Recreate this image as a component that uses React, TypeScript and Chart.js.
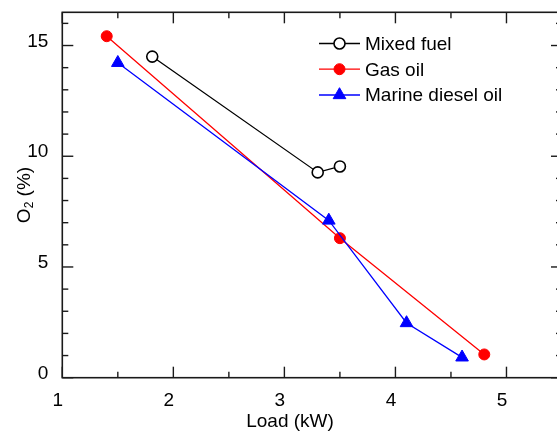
import React, { useEffect, useRef } from "react";
import { Chart, registerables } from "chart.js";

Chart.register(...registerables);

const FONT = "'Liberation Sans', Arial, Helvetica, sans-serif";

// ---- data ----
const seriesNames = ["Mixed fuel", "Gas oil", "Marine diesel oil"];
const mixedLoad = [1.81, 3.3, 3.5];
const mixedO2 = [14.5, 9.27, 9.54];
const gasLoad = [1.4, 3.5, 4.8];
const gasO2 = [15.42, 6.3, 1.05];
const marineLoad = [1.5, 3.4, 4.1, 4.6];
const marineO2 = [14.22, 7.1, 2.47, 0.92];
const xTickValues = [1, 2, 3, 4, 5];
const yTickValues = [0, 5, 10, 15];
const xTitle = "Load (kW)";
const yTitleMain = "O";
const yTitleSub = "2";
const yTitleRest = " (%)";

const toPoints = (xs: number[], ys: number[]) => xs.map((x, i) => ({ x, y: ys[i] }));

const framePlugin = {
  id: "frameAndLegend",
  afterDraw(chart: any) {
    const { ctx, chartArea } = chart;
    const { left, right, top, bottom } = chartArea;
    const xs = chart.scales.x;
    const ys = chart.scales.y;
    ctx.save();
    ctx.strokeStyle = "#1a1a1a";
    ctx.lineWidth = 1.6;
    ctx.strokeRect(left, top, right - left, bottom - top);
    const seg = (x1: number, y1: number, x2: number, y2: number) => {
      ctx.beginPath();
      ctx.moveTo(x1, y1);
      ctx.lineTo(x2, y2);
      ctx.stroke();
    };
    ctx.lineWidth = 1.4;
    for (let v = xs.min; v <= xs.max + 1e-9; v += 0.5) {
      const px = xs.getPixelForValue(v);
      const major = Math.abs(v - Math.round(v)) < 1e-6;
      const len = major ? 11 : 6;
      seg(px, bottom, px, bottom - len);
      seg(px, top, px, top + len);
    }
    for (let v = ys.min; v <= ys.max + 1e-9; v += 1) {
      const py = ys.getPixelForValue(v);
      const major = Math.abs(v % 5) < 1e-6;
      const len = major ? 11 : 6;
      seg(left, py, left + len, py);
      seg(right, py, right - len, py);
    }

    // legend
    const rows = [43.5, 69.2, 95];
    chart.data.datasets.forEach((ds: any, i: number) => {
      const ry = rows[i];
      ctx.strokeStyle = ds.borderColor;
      ctx.lineWidth = 1.3;
      seg(319, ry, 360, ry);
      const cx = 339.5;
      ctx.fillStyle = ds.pointBackgroundColor;
      ctx.strokeStyle = ds.borderColor;
      ctx.lineWidth = ds.pointBorderWidth;
      ctx.beginPath();
      if (ds.pointStyle === "triangle") {
        const r = ds.pointRadius;
        ctx.moveTo(cx, ry - r);
        ctx.lineTo(cx + 0.866 * r, ry + 0.5 * r);
        ctx.lineTo(cx - 0.866 * r, ry + 0.5 * r);
        ctx.closePath();
      } else {
        ctx.arc(cx, ry, ds.pointRadius, 0, Math.PI * 2);
      }
      ctx.fill();
      ctx.stroke();
      ctx.fillStyle = "#000";
      ctx.font = `19px ${FONT}`;
      ctx.textAlign = "left";
      ctx.textBaseline = "middle";
      ctx.fillText(ds.label, 365, ry + 1.2);
    });

    // axis titles
    ctx.fillStyle = "#000";
    ctx.font = `19px ${FONT}`;
    ctx.textAlign = "center";
    ctx.textBaseline = "middle";
    ctx.fillText(xTitle, 290, 422);

    ctx.save();
    ctx.translate(30, (top + bottom) / 2);
    ctx.rotate(-Math.PI / 2);
    ctx.textAlign = "left";
    ctx.textBaseline = "alphabetic";
    const mainFont = `19px ${FONT}`;
    const subFont = `12px ${FONT}`;
    ctx.font = mainFont;
    const w1 = ctx.measureText(yTitleMain).width;
    const w3 = ctx.measureText(yTitleRest).width;
    ctx.font = subFont;
    const w2 = ctx.measureText(yTitleSub).width;
    let x0 = -(w1 + w2 + w3) / 2;
    ctx.font = mainFont;
    ctx.fillText(yTitleMain, x0, 0);
    x0 += w1;
    ctx.font = subFont;
    ctx.fillText(yTitleSub, x0, 3);
    x0 += w2;
    ctx.font = mainFont;
    ctx.fillText(yTitleRest, x0, 0);
    ctx.restore();

    ctx.restore();
  },
};

export default function App() {
  const ref = useRef<HTMLCanvasElement | null>(null);
  useEffect(() => {
    if (!ref.current) return;
    const chart = new Chart(ref.current, {
      type: "scatter",
      data: {
        datasets: [
          {
            label: seriesNames[0],
            data: toPoints(mixedLoad, mixedO2),
            showLine: true,
            borderColor: "#000000",
            backgroundColor: "#ffffff",
            pointBackgroundColor: "#ffffff",
            pointBorderColor: "#000000",
            pointBorderWidth: 1.6,
            pointStyle: "circle",
            pointRadius: 5.5,
            borderWidth: 1.3,
            order: 2,
          },
          {
            label: seriesNames[1],
            data: toPoints(gasLoad, gasO2),
            showLine: true,
            borderColor: "#ff0000",
            backgroundColor: "#ff0000",
            pointBackgroundColor: "#ff0000",
            pointBorderColor: "#ff0000",
            pointBorderWidth: 1,
            pointStyle: "circle",
            pointRadius: 5.5,
            borderWidth: 1.3,
            order: 1,
          },
          {
            label: seriesNames[2],
            data: toPoints(marineLoad, marineO2),
            showLine: true,
            borderColor: "#0000ff",
            backgroundColor: "#0000ff",
            pointBackgroundColor: "#0000ff",
            pointBorderColor: "#0000ff",
            pointBorderWidth: 1,
            pointStyle: "triangle",
            pointRadius: 7.3,
            borderWidth: 1.3,
            order: 0,
          },
        ] as any,
      },
      options: {
        responsive: false,
        devicePixelRatio: 1,
        animation: false,
        layout: { padding: { top: 12.3, right: 13, left: 0, bottom: 0 } },
        plugins: {
          legend: { display: false },
          tooltip: { enabled: false },
        },
        scales: {
          x: {
            type: "linear",
            min: 1,
            max: 5.5,
            afterBuildTicks: (s: any) => {
              s.ticks = xTickValues.map((v) => ({ value: v }));
            },
            afterFit: (s: any) => {
              s.height = 56.3;
              s.paddingLeft = 0;
              s.paddingRight = 0;
            },
            grid: { display: false },
            border: { display: false },
            ticks: {
              color: "#000",
              font: { family: FONT, size: 19 },
              padding: 4,
              labelOffset: -4.5,
              maxRotation: 0,
              autoSkip: false,
            },
          },
          y: {
            type: "linear",
            min: 0,
            max: 16.5,
            afterBuildTicks: (s: any) => {
              s.ticks = yTickValues.map((v) => ({ value: v }));
            },
            afterFit: (s: any) => {
              s.width = 62.3;
              s.paddingTop = 0;
              s.paddingBottom = 0;
            },
            grid: { display: false },
            border: { display: false },
            ticks: {
              color: "#000",
              font: { family: FONT, size: 19 },
              padding: 6,
              labelOffset: -4,
              autoSkip: false,
            },
          },
        },
      } as any,
      plugins: [framePlugin],
    });
    return () => chart.destroy();
  }, []);
  return (
    <div
      style={{
        position: "fixed",
        left: 0,
        top: 0,
        width: 557,
        height: 434,
        overflow: "hidden",
        background: "#fff",
      }}
    >
      <canvas ref={ref} width={575} height={434} style={{ display: "block", width: 575, height: 434 }} />
    </div>
  );
}
